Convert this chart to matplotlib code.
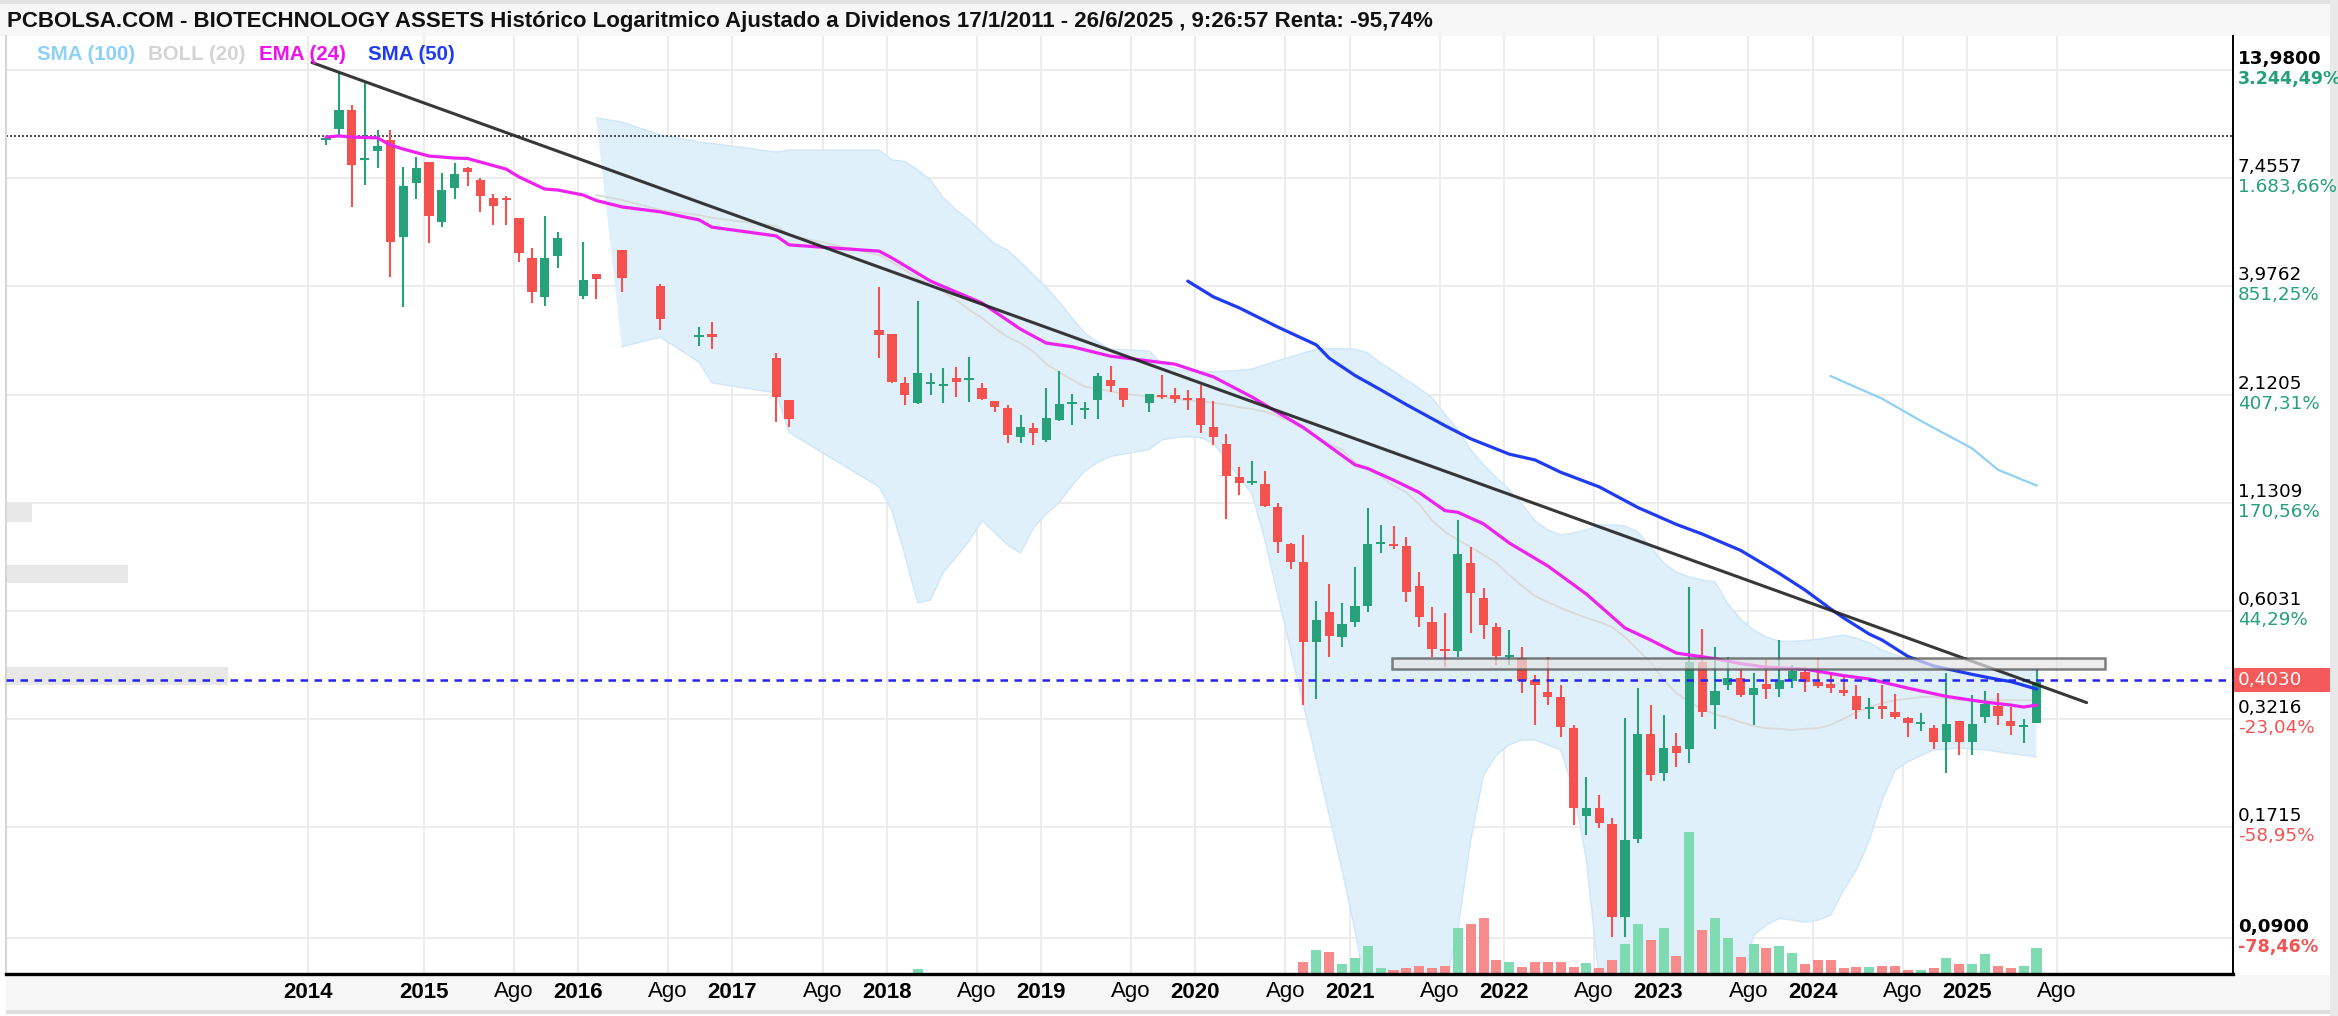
import numpy as np
import matplotlib
matplotlib.use("Agg")
import matplotlib.pyplot as plt
import matplotlib.transforms as mtransforms
from matplotlib.patches import Rectangle
from matplotlib.ticker import NullLocator

# ---------------- data (month index: 0 = Jan 2015) ----------------
candle_month = (list(range(-8, 11)) + [12, 13, 15, 18, 21, 22, 27, 28]
                + list(range(35, 55)) + list(range(56, 126)))

opens = [9.31, 9.92, 11.08, 8.29, 8.73, 9.31, 5.30, 7.25, 8.19, 5.78, 7.04, 7.91, 7.38, 6.65, 6.61, 5.92, 4.69, 3.74, 4.74,
         3.76, 4.27, 4.91, 3.99, 2.96, 3.01, 2.62, 2.05,
         3.09, 3.01, 2.27, 2.02, 2.25, 2.23, 2.33, 2.31, 2.20, 2.04, 1.96, 1.66, 1.75, 1.63, 1.83, 2.01, 1.94, 2.05, 2.31, 2.20,
         2.02, 2.10, 2.12, 2.08, 2.08, 1.76, 1.59, 1.31, 1.27, 1.26,
         1.10, 0.890, 0.801, 0.503, 0.599, 0.518, 0.566, 0.621, 0.890, 0.890,
         0.880, 0.697, 0.566, 0.481, 0.478, 0.797, 0.650, 0.549, 0.461, 0.459,
         0.404, 0.377, 0.366, 0.305, 0.183, 0.192, 0.175, 0.102, 0.160, 0.295,
         0.235, 0.275, 0.270, 0.448, 0.349, 0.392, 0.408, 0.370, 0.394, 0.383,
         0.401, 0.423, 0.399, 0.394, 0.381, 0.368, 0.341, 0.347, 0.335, 0.324,
         0.313, 0.305, 0.282, 0.318, 0.282, 0.326, 0.347, 0.318, 0.307, 0.314]
highs = [9.47, 13.74, 11.41, 12.96, 9.87, 9.87, 7.96, 8.43, 8.19, 7.68, 8.14, 7.96, 7.46, 6.80, 6.72, 5.92, 4.97, 5.99, 5.45,
         5.15, 4.27, 4.91, 4.03, 3.14, 3.23, 2.70, 2.05,
         3.96, 3.01, 2.35, 3.65, 2.40, 2.47, 2.49, 2.64, 2.27, 2.04, 2.00, 1.88, 1.80, 2.20, 2.43, 2.13, 2.03, 2.40, 2.50, 2.20,
         2.13, 2.38, 2.20, 2.18, 2.24, 2.04, 1.69, 1.39, 1.44, 1.36,
         1.13, 0.895, 0.938, 0.639, 0.705, 0.632, 0.778, 1.097, 0.994, 0.988,
         0.927, 0.756, 0.617, 0.596, 1.023, 0.874, 0.689, 0.562, 0.540, 0.489,
         0.416, 0.461, 0.392, 0.311, 0.230, 0.207, 0.181, 0.324, 0.385, 0.349,
         0.329, 0.297, 0.693, 0.543, 0.489, 0.461, 0.428, 0.420, 0.456, 0.509,
         0.440, 0.435, 0.459, 0.416, 0.411, 0.392, 0.364, 0.392, 0.372, 0.326,
         0.333, 0.311, 0.420, 0.318, 0.370, 0.379, 0.374, 0.345, 0.322, 0.430]
lows = [9.04, 9.47, 6.31, 7.17, 7.91, 4.20, 3.53, 6.61, 5.12, 5.61, 6.61, 7.13, 6.13, 5.68, 5.68, 4.58, 3.61, 3.55, 4.42,
        3.70, 3.70, 3.85, 3.09, 2.81, 2.76, 1.81, 1.76,
        2.62, 2.27, 2.00, 2.01, 2.12, 2.02, 2.09, 2.03, 2.05, 1.92, 1.60, 1.60, 1.58, 1.61, 1.82, 1.78, 1.84, 1.84, 2.15, 1.97,
        1.92, 2.07, 2.02, 1.94, 1.70, 1.58, 1.03, 1.18, 1.25, 1.10,
        0.844, 0.769, 0.349, 0.362, 0.461, 0.489, 0.549, 0.599, 0.844, 0.864,
        0.635, 0.549, 0.461, 0.435, 0.461, 0.531, 0.512, 0.440, 0.440, 0.374,
        0.311, 0.349, 0.290, 0.174, 0.164, 0.171, 0.0907, 0.0907, 0.157, 0.224,
        0.224, 0.243, 0.249, 0.326, 0.304, 0.381, 0.366, 0.311, 0.362, 0.366,
        0.385, 0.377, 0.385, 0.374, 0.368, 0.322, 0.322, 0.322, 0.322, 0.290,
        0.300, 0.270, 0.235, 0.261, 0.261, 0.314, 0.311, 0.293, 0.280, 0.314]
closes = [9.36, 11.08, 8.05, 8.33, 8.99, 5.15, 7.13, 7.91, 5.99, 6.96, 7.64, 7.73, 6.72, 6.34, 6.57, 4.83, 3.85, 4.69, 5.27,
          4.13, 4.15, 4.17, 3.29, 3.00, 2.96, 2.09, 1.84,
          3.00, 2.28, 2.12, 2.40, 2.27, 2.24, 2.28, 2.32, 2.07, 1.97, 1.68, 1.76, 1.70, 1.85, 2.01, 2.03, 1.95, 2.36, 2.23, 2.05,
          2.13, 2.09, 2.07, 2.05, 1.78, 1.66, 1.32, 1.27, 1.28, 1.11,
          0.900, 0.801, 0.503, 0.572, 0.521, 0.559, 0.621, 0.890, 0.895, 0.880,
          0.673, 0.582, 0.483, 0.478, 0.840, 0.669, 0.556, 0.464, 0.464, 0.401,
          0.392, 0.366, 0.307, 0.192, 0.192, 0.176, 0.102, 0.159, 0.295, 0.232,
          0.272, 0.264, 0.448, 0.335, 0.379, 0.408, 0.370, 0.385, 0.383, 0.404,
          0.425, 0.399, 0.390, 0.385, 0.374, 0.339, 0.343, 0.341, 0.326, 0.314,
          0.314, 0.282, 0.313, 0.282, 0.313, 0.351, 0.328, 0.309, 0.311, 0.400]

vol_month = [38] + list(range(68, 126))
volumes = [5, 12, 24, 22, 10, 16, 28, 6, 4, 6, 8, 6, 8, 46, 50, 56, 14, 12, 7, 12, 12,
           12, 7, 11, 6, 14, 30, 50, 34, 46, 18, 142, 44, 56, 36, 17, 30, 26, 28, 21, 10,
           14, 14, 6, 7, 7, 8, 8, 4, 4, 6, 16, 10, 10, 20, 8, 6, 8, 26]

ema_month = [-8, -7, -6, -4, -3, -2, 0, 2, 3, 4, 6, 7, 9, 10, 12, 13, 15, 18, 21, 22, 27, 28,
             35, 36, 39, 43, 46, 48, 50, 53, 58, 61, 64, 66, 68, 72, 73, 75, 77, 79, 80,
             82, 84, 87, 90, 93, 95, 97, 100, 102, 104, 107, 110, 112, 115, 118, 121, 123, 124, 125]
ema24 = [9.47, 9.53, 9.47, 9.42, 9.04, 8.83, 8.48, 8.38, 8.36, 8.19, 7.86, 7.51, 7.00, 6.96,
         6.76, 6.55, 6.31, 6.13, 5.85, 5.61, 5.33, 5.06, 4.88, 4.69, 4.10, 3.61, 3.10, 2.86, 2.80,
         2.65, 2.53, 2.35, 2.09, 1.91, 1.75, 1.41, 1.38, 1.29, 1.20, 1.08, 1.07, 1.00, 0.895, 0.783,
         0.665, 0.546, 0.509, 0.472, 0.457, 0.444, 0.435, 0.430, 0.414, 0.406, 0.385, 0.367, 0.355,
         0.349, 0.345, 0.349]

sma50_month = [59, 61, 63, 66, 69, 70, 72, 74, 76, 79, 81, 84, 86, 88, 91, 94, 97, 99, 102, 105,
               107, 109, 110, 112, 113, 115, 117, 120, 122, 123, 125]
sma50 = [4.10, 3.74, 3.51, 3.14, 2.83, 2.62, 2.37, 2.18, 2.00, 1.77, 1.64, 1.50, 1.45, 1.35, 1.24,
         1.10, 0.997, 0.943, 0.857, 0.750, 0.681, 0.610, 0.579, 0.527, 0.509, 0.463, 0.438, 0.417,
         0.405, 0.400, 0.383]

sma100_month = [109, 113, 116, 120, 122, 125]
sma100 = [2.36, 2.07, 1.82, 1.55, 1.37, 1.25]

boll_month = [m for m in candle_month if m >= 13]
boll_upper = [10.58, 10.33, 9.58, 9.20, 9.12, 8.68, 8.78,
              8.78, 8.29, 8.22, 7.82, 7.38, 6.65, 6.20, 5.85, 5.45, 5.09, 4.91, 4.58, 4.25, 3.96, 3.63,
              3.31, 3.03, 2.88, 2.76, 2.75,
              2.73, 2.53, 2.47, 2.43, 2.42, 2.42, 2.43, 2.44, 2.46, 2.52, 2.58, 2.64, 2.70, 2.76, 2.77,
              2.77, 2.76, 2.70, 2.55, 2.43, 2.31, 2.20, 2.08, 1.89, 1.73, 1.54, 1.41, 1.31, 1.22, 1.12,
              1.02, 0.965, 0.938, 0.949, 0.965, 0.994, 0.994, 0.988, 0.954, 0.874, 0.797, 0.756, 0.735,
              0.722, 0.714, 0.628, 0.575, 0.540, 0.518, 0.506, 0.505, 0.508, 0.511, 0.518, 0.524, 0.515,
              0.501, 0.481, 0.467, 0.456, 0.446, 0.435, 0.430, 0.428, 0.428, 0.428, 0.428, 0.428, 0.428, 0.428]
boll_mid = [6.76, 6.57, 6.20, 6.02, 5.92, 5.65, 5.36,
            4.77, 4.58, 4.37, 4.17, 4.01, 3.85, 3.67, 3.47, 3.31, 3.12, 2.96, 2.86, 2.72, 2.53, 2.42,
            2.31, 2.22, 2.19, 2.16, 2.13,
            2.10, 2.09, 2.07, 2.05, 2.04, 2.02, 2.00, 1.97, 1.95, 1.92, 1.87, 1.81, 1.73, 1.66, 1.59,
            1.54, 1.43, 1.37, 1.32, 1.25, 1.20, 1.12, 1.02, 0.954, 0.911, 0.874, 0.835, 0.797, 0.743,
            0.697, 0.658, 0.635, 0.613, 0.596, 0.579, 0.566, 0.549, 0.518, 0.481, 0.448, 0.404, 0.374,
            0.355, 0.341, 0.331, 0.324, 0.316, 0.309, 0.305, 0.304, 0.302, 0.304, 0.305, 0.311, 0.322,
            0.335, 0.345, 0.353, 0.359, 0.362, 0.366, 0.366, 0.364, 0.359, 0.359, 0.359, 0.359, 0.359,
            0.359, 0.359]
boll_lower = [np.nan, 2.80, 2.96, 2.56, 2.27, 2.14, 1.70,
              1.24, 1.08, 0.835, 0.632, 0.643, 0.756, 0.825, 0.905, 1.02, 0.949, 0.885, 0.844, 0.977,
              1.06, 1.13, 1.25, 1.36, 1.43, 1.48, 1.50,
              1.54, 1.63, 1.65, 1.66, 1.65, 1.60, 1.45, 1.31, 1.19, 0.911, 0.662, 0.481, 0.349, 0.254,
              0.184, 0.134, 0.0944, 0.063, 0.050, 0.045, 0.045, 0.048, 0.055, 0.068, 0.0944, 0.159,
              0.232, 0.261, 0.277, 0.285, 0.285, 0.277, 0.269, 0.213, 0.142, 0.0706, 0.060, 0.050,
              0.050, 0.055, 0.060, 0.065, 0.065, 0.065, 0.065, 0.068, 0.0666, 0.0915, 0.0972, 0.101,
              0.100, 0.0989, 0.100, 0.103, 0.119, 0.134, 0.159, 0.201, 0.239, 0.251, 0.260, 0.269,
              0.270, 0.272, 0.270, 0.269, 0.266, 0.263, 0.261, 0.258]

# volume-at-price blocks on the left edge
profile_low = [1.013, 0.709, 0.392]
profile_high = [1.127, 0.788, 0.436]
profile_vol = [26, 122, 222]

# drawings
trend_month = [-9.1, 128.9]
trend_price = [14.6, 0.354]
resist_level = 9.5
last_price = 0.403
zone_month = [74.9, 130.3]
zone_price = [0.4296, 0.4574]

price_ticks = [13.98, 7.4557, 3.9762, 2.1205, 1.1309, 0.6031, 0.3216, 0.1715, 0.09]
price_labels = ["13,9800", "7,4557", "3,9762", "2,1205", "1,1309", "0,6031", "0,3216", "0,1715", "0,0900"]
pct_labels = ["3.244,49%", "1.683,66%", "851,25%", "407,31%", "170,56%", "44,29%", "-23,04%", "-58,95%", "-78,46%"]

tick_month = [-9, 0, 7, 12, 19, 24, 31, 36, 43, 48, 55, 60, 67, 72, 79, 84, 91, 96, 103, 108, 115, 120, 127]
tick_text = ["2014", "2015", "Ago", "2016", "Ago", "2017", "Ago", "2018", "Ago", "2019", "Ago", "2020", "Ago",
             "2021", "Ago", "2022", "Ago", "2023", "Ago", "2024", "Ago", "2025", "Ago"]

title = ("PCBOLSA.COM - BIOTECHNOLOGY ASSETS Histórico Logaritmico Ajustado a Dividenos "
         "17/1/2011 - 26/6/2025 , 9:26:57 Renta: -95,74%")

# ---------------- figure ----------------
W, H = 2338, 1016
fig = plt.figure(figsize=(W / 100, H / 100), dpi=100, facecolor="white")


def fx(px):
    return px / W


def fy(py):
    return 1 - py / H


def backdrop(x0, y0, x1, y1, color, z=-5):
    # page chrome in pixel coordinates (top-left origin)
    fig.add_artist(Rectangle((fx(x0), fy(y1)), fx(x1) - fx(x0), (y1 - y0) / H,
                             transform=fig.transFigure, color=color, lw=0, zorder=z))


backdrop(0, 0, W, 4, "#e2e2e2")
backdrop(0, 4, 2330, 36, "#f7f7f7")
backdrop(6, 975, W, 1010, "#f7f7f7")
backdrop(6, 1010, W, 1014, "#dedede")
backdrop(2330, 0, W, H, "#e9e9e9")

ax = fig.add_axes([fx(6), fy(974), fx(2233) - fx(6), fy(36) - fy(974)])
ax.set_yscale("log")
ax.set_ylim(0.07312, 17.035)
ax.set_xlim((6 - 429) / 12.86, (2233 - 429) / 12.86)

ax.set_yticks(price_ticks)
ax.yaxis.set_minor_locator(NullLocator())
ax.set_xticks([t - 0.4 for t in tick_month])
ax.tick_params(length=0, labelleft=False, labelbottom=False)
ax.set_axisbelow(True)
ax.grid(True, color="#ebebeb", lw=1.3)
ax.spines["top"].set_visible(False)
ax.spines["left"].set_color("#d6d6d6")
ax.spines["left"].set_linewidth(1.5)
ax.spines["right"].set_color("black")
ax.spines["right"].set_linewidth(1.4)
ax.spines["bottom"].set_color("black")
ax.spines["bottom"].set_linewidth(2.4)

blend_ya = mtransforms.blended_transform_factory(ax.transAxes, ax.transData)
blend_xa = mtransforms.blended_transform_factory(ax.transData, ax.transAxes)

# volume profile blocks
for lo, hi, v in zip(profile_low, profile_high, profile_vol):
    ax.add_patch(Rectangle((0, lo), v / 2227, hi - lo, transform=blend_ya, color="#e8e8e8", lw=0, zorder=1))

# bollinger band
bm = np.array(boll_month, float)
bu = np.array(boll_upper)
bl = np.array(boll_lower)
ok = ~np.isnan(bl)
ax.fill(np.r_[bm, bm[ok][::-1]], np.r_[bu, bl[ok][::-1]], color="#dff0fb", lw=0, zorder=1.1)
ax.plot(bm, bu, color="#cfe7f8", lw=1, zorder=1.2)
ax.plot(bm[ok], bl[ok], color="#cfe7f8", lw=1, zorder=1.2)
ax.plot(bm, boll_mid, color="#d9d9d9", lw=1.3, zorder=1.3)

# volume
up_col, dn_col = "#26a17a", "#f5524f"
direction = {m: c >= o for m, o, c in zip(candle_month, opens, closes)}
for m, v in zip(vol_month, volumes):
    col = "#7fdcb2" if direction.get(m, True) else "#f78a8a"
    ax.add_patch(Rectangle((m - 0.39, 0), 0.78, v / 938, transform=blend_xa, color=col, lw=0, zorder=1.6))

# horizontal levels
ax.axhline(resist_level, color="#333333", lw=1.2, dashes=(1.2, 1.2), zorder=2)
ax.axhline(last_price, color="#2525f0", lw=1.8, dashes=(3.0, 2.6), zorder=5)

# candles
for m, o, h, l, c in zip(candle_month, opens, highs, lows, closes):
    col = up_col if c >= o else dn_col
    ax.vlines(m, l, h, color=col, lw=1.5, zorder=3)
    lo, hi = min(o, c), max(o, c)
    hi = max(hi, lo * 1.012)
    ax.bar(m, hi - lo, bottom=lo, width=0.72, color=col, lw=0, zorder=3.1)

# moving averages
ax.plot(sma100_month, sma100, color="#8fd0f7", lw=1.6, zorder=4)
ax.plot(ema_month, ema24, color="#ee22ee", lw=2.3, zorder=4.1, solid_capstyle="round")
ax.plot(sma50_month, sma50, color="#1f3cf2", lw=2.3, zorder=4.2, solid_capstyle="round")

# trendline and zone
ax.plot(trend_month, trend_price, color="#222222", lw=2.2, alpha=0.9, zorder=5, solid_capstyle="round")
ax.add_patch(Rectangle((zone_month[0], zone_price[0]), zone_month[1] - zone_month[0],
                       zone_price[1] - zone_price[0], facecolor="#e4e4e4", alpha=0.7,
                       edgecolor="#4a4a4a", lw=1.8, zorder=5))

# right price axis labels
for i, (v, pl, pc) in enumerate(zip(price_ticks, price_labels, pct_labels)):
    bold = i in (0, len(price_ticks) - 1)
    pct_col = "#26a07a" if not pc.startswith("-") else "#f25454"
    ax.text(1.0022, v, pl, transform=mtransforms.offset_copy(blend_ya, fig=fig, y=11, units="dots"),
            ha="left", va="center", fontsize=13.2, family="DejaVu Sans",
            fontweight="bold" if bold else "normal", color="black", clip_on=False)
    ax.text(1.0022, v, pc, transform=mtransforms.offset_copy(blend_ya, fig=fig, y=-9, units="dots"),
            ha="left", va="center", fontsize=13.2 if not bold else 12.6, family="DejaVu Sans",
            fontweight="bold" if bold else "normal", color=pct_col, clip_on=False)

# last price tag
fig.add_artist(Rectangle((fx(2234), fy(692)), fx(2330) - fx(2234), 24 / H, transform=fig.transFigure,
                         color="#f45a5a", lw=0, zorder=6))
fig.text(fx(2238), fy(680), "0,4030", color="white", fontsize=13.2, family="DejaVu Sans",
         ha="left", va="center", zorder=7)

# x labels
for t, s in zip(tick_month, tick_text):
    ax.text(t - 0.4, 0, s, transform=mtransforms.offset_copy(blend_xa, fig=fig, y=-18, units="dots"),
            ha="center", va="center", fontsize=16, family="Liberation Sans",
            fontweight="normal" if s == "Ago" else "bold", color="black", clip_on=False)

# title and legend
fig.text(fx(7), fy(21), title, fontsize=16, fontweight="bold", family="Liberation Sans",
         ha="left", va="center", color="#111111")
legend_items = [("SMA (100)", "#8fd0f7", 37), ("BOLL (20)", "#d4d4d4", 148),
                ("EMA (24)", "#ee11ee", 259), ("SMA (50)", "#1f3cf2", 368)]
for txt, col, px in legend_items:
    fig.text(fx(px), fy(54), txt, color=col, fontsize=14.8, fontweight="bold",
             family="Liberation Sans", ha="left", va="center")

fig.savefig("out.png", dpi=100, facecolor="white")
